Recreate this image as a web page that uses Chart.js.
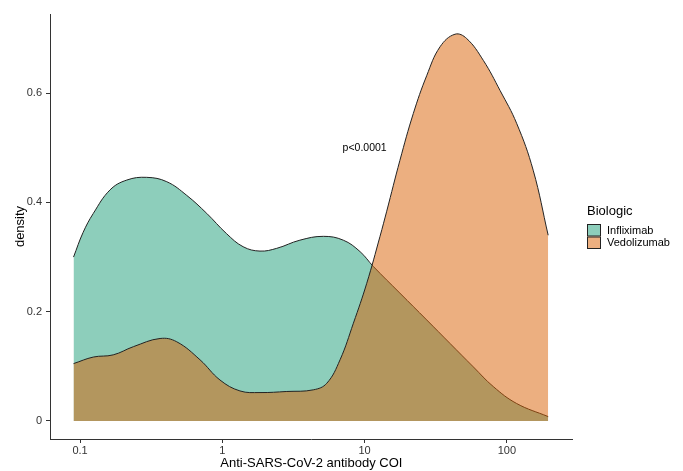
<!DOCTYPE html>
<html>
<head>
<meta charset="utf-8">
<script src="https://cdn.jsdelivr.net/npm/chart.js@4/dist/chart.umd.min.js"></script>
<style>
  body { margin: 0; background: #fff; }
  canvas { display: block; }
</style>
</head>
<body>
<canvas id="densityChart" width="683" height="471"></canvas>
<script>
// density curves (x = antibody COI, log scale)
let inflixCOI = [0.09, 0.105, 0.124, 0.1625, 0.213, 0.294, 0.407, 0.562, 0.777, 1.07, 1.40, 1.84, 2.41, 3.51, 5.13, 7.08, 9.29, 11.5, 17.7, 27.3, 39.8, 58.1, 80.2, 117, 195];
let inflixDensity = [0.30, 0.345, 0.38, 0.423, 0.441, 0.446, 0.438, 0.413, 0.38, 0.343, 0.319, 0.311, 0.316, 0.331, 0.338, 0.331, 0.31, 0.283, 0.234, 0.185, 0.142, 0.099, 0.063, 0.032, 0.008];

let vedoCOI = [0.09, 0.124, 0.171, 0.237, 0.365, 0.478, 0.697, 0.963, 1.33, 1.84, 2.84, 4.36, 5.42, 6.72, 8.34, 10.35, 12.83, 14.3, 17.7, 22.0, 27.3, 33.9, 43.2, 52.2, 68.3, 89.5, 117, 153, 195];
let vedoDensity = [0.105, 0.117, 0.121, 0.136, 0.151, 0.145, 0.112, 0.075, 0.055, 0.052, 0.054, 0.057, 0.069, 0.112, 0.179, 0.252, 0.338, 0.384, 0.477, 0.563, 0.632, 0.685, 0.708, 0.70, 0.66, 0.605, 0.545, 0.459, 0.34];

let groups = ['Infliximab', 'Vedolizumab'];
let fills = ['rgba(27,158,119,0.5)', 'rgba(217,95,2,0.5)'];
let xTicks = [0.1, 1, 10, 100];
let yTicks = [0, 0.2, 0.4, 0.6];

const FONT = "'Liberation Sans', Arial, sans-serif";

function toPoints(xs, ys) {
    return xs.map((x, i) => ({ x: x, y: ys[i] }));
}

// legend on the right + p-value label
let extras = {
    id : 'extras',
    afterDraw(chart) {
        let ctx = chart.ctx;
        let xs = chart.scales.x, ys = chart.scales.y;
        ctx.save();
        ctx.fillStyle = '#000';
        ctx.font = '10.5px ' + FONT;
        ctx.textAlign = 'center';
        ctx.textBaseline = 'middle';
        ctx.fillText('p<0.0001', xs.getPixelForValue(10), ys.getPixelForValue(0.5));

        ctx.textAlign = 'left';
        ctx.font = '13px ' + FONT;
        ctx.fillText('Biologic', 587, 211);
        ctx.font = '11px ' + FONT;
        groups.forEach((g, i) => {
            let top = 224 + i * 12.5;
            ctx.fillStyle = '#fff';
            ctx.fillRect(587, top, 14, 12.5);
            ctx.fillStyle = fills[i];
            ctx.fillRect(587, top, 14, 12.5);
            ctx.strokeStyle = '#222';
            ctx.lineWidth = 1;
            ctx.strokeRect(587.5, top + 0.5, 13, 11.5);
            ctx.fillStyle = '#000';
            ctx.fillText(g, 607, top + 6.5);
        });
        ctx.restore();
    }
};

let config = {
    type : 'line',
    data : {
        datasets : [{
            label : groups[0],
            data : toPoints(inflixCOI, inflixDensity),
            backgroundColor : fills[0],
            borderColor : '#222',
            borderWidth : 1,
            fill : 'origin',
            pointRadius : 0,
            tension : 0.4,
            order : 1
        }, {
            label : groups[1],
            data : toPoints(vedoCOI, vedoDensity),
            backgroundColor : fills[1],
            borderColor : '#222',
            borderWidth : 1,
            fill : 'origin',
            pointRadius : 0,
            tension : 0.4,
            order : 0
        }]
    },
    options : {
        responsive : false,
        animation : false,
        devicePixelRatio : 1,
        layout : { padding : { top : 14, right : 110.3, left : 0, bottom : 0 } },
        plugins : {
            legend : { display : false },
            tooltip : { enabled : false }
        },
        scales : {
            x : {
                type : 'logarithmic',
                min : 0.0615,
                max : 290,
                afterBuildTicks : (s) => { s.ticks = xTicks.map(v => ({ value : v })); },
                afterFit : (s) => { s.height = 32; },
                grid : { drawOnChartArea : false, tickLength : 4, tickColor : '#333' },
                border : { color : '#333', width : 1 },
                ticks : {
                    color : '#333',
                    padding : 1,
                    maxRotation : 0,
                    font : { family : FONT, size : 11 },
                    callback : (v) => String(v)
                },
                title : {
                    display : true,
                    text : 'Anti-SARS-CoV-2 antibody COI',
                    color : '#000',
                    font : { family : FONT, size : 13 },
                    padding : { top : 0, bottom : 0 }
                }
            },
            y : {
                min : -0.033,
                max : 0.745,
                afterBuildTicks : (s) => { s.ticks = yTicks.map(v => ({ value : v })); },
                afterFit : (s) => { s.width = 50; },
                grid : { drawOnChartArea : false, tickLength : 4, tickColor : '#333' },
                border : { color : '#333', width : 1 },
                ticks : {
                    color : '#333',
                    padding : 4,
                    font : { family : FONT, size : 11 },
                    callback : (v) => String(v)
                },
                title : {
                    display : true,
                    text : 'density',
                    color : '#000',
                    font : { family : FONT, size : 13 },
                    padding : { top : 13, bottom : 0 }
                }
            }
        }
    },
    plugins : [extras]
};

let chart = new Chart(document.getElementById('densityChart'), config);
</script>
</body>
</html>
